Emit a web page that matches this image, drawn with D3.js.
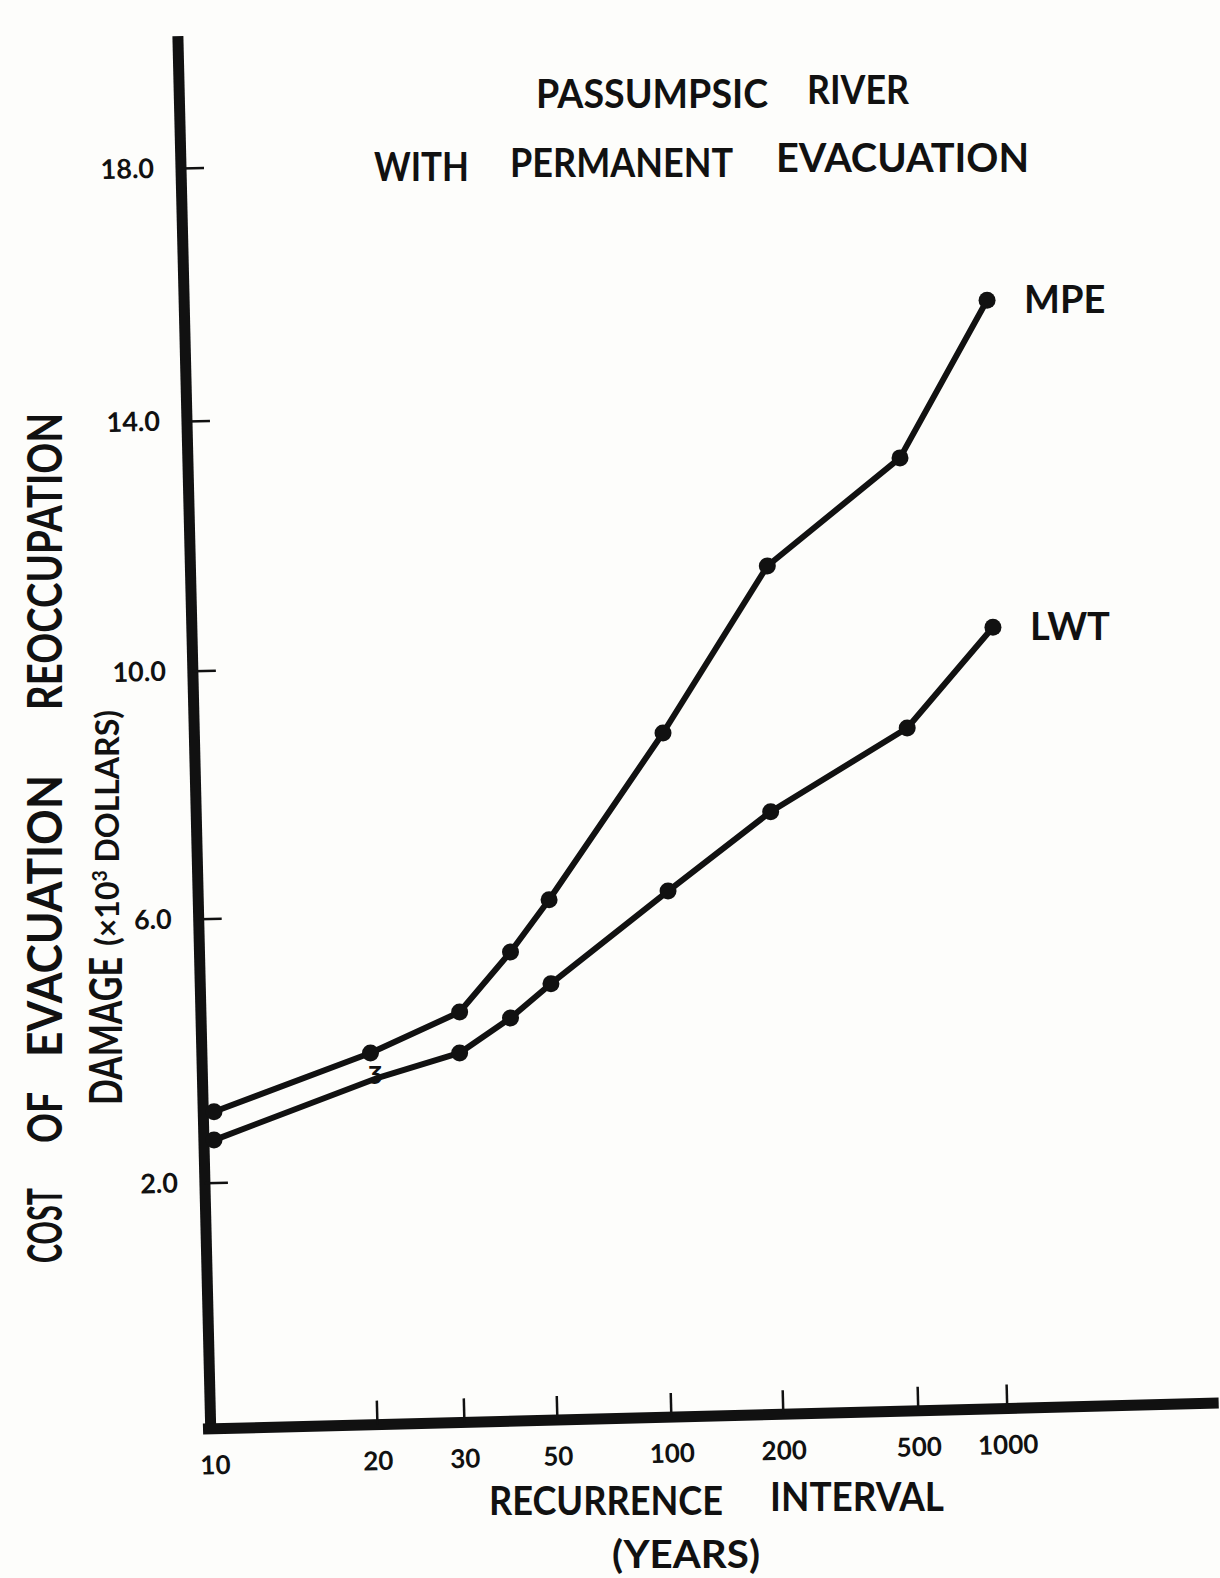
<!DOCTYPE html>
<html>
<head>
<meta charset="utf-8">
<script src="https://cdn.jsdelivr.net/npm/d3@7"></script>
<style>
  body { margin: 0; background: #fdfdfb; }
  text { font-family: Lato, "Open Sans", sans-serif; fill: #111; font-weight: bold; }
</style>
</head>
<body>
<div id="chart"></div>
<script>
// recurrence interval (years) and cost (x10^3 dollars)
var recurrenceTicks = [10, 20, 30, 50, 100, 200, 500, 1000];
var costTicks = [2, 6, 10, 14, 18];

var mpeYears = [10, 19.6, 29.5, 40, 48.3, 96.5, 186, 460, 888];
var mpeCost  = [3.08, 3.97, 4.59, 5.5, 6.31, 9.0, 11.68, 13.41, 15.91];

var lwtYears = [10, 19.9, 29.5, 40, 48.7, 98.7, 189, 476, 921];
var lwtCost  = [2.65, 3.58, 3.97, 4.5, 5.02, 6.45, 7.73, 9.08, 10.70];

var w = 1220, h = 1578;

var svg = d3.select("#chart").append("svg")
  .attr("width", w)
  .attr("height", h);

svg.append("rect").attr("width", w).attr("height", h).attr("fill", "#fdfdfb");

// hand drawn graph paper: uneven tick spacing, so piecewise scales
var xScale = d3.scaleLinear()
  .domain(recurrenceTicks)
  .range([214, 377, 464, 557, 671, 783, 918, 1007]);

var yScale = d3.scaleLinear()
  .domain(costTicks)
  .range([1183, 919, 671, 421, 168]);

// y axis (slightly tilted)
var yAxisG = svg.append("g")
  .attr("transform", "translate(181,0) rotate(-1.35,0,168)");

yAxisG.append("line")
  .attr("x1", 0).attr("y1", 36)
  .attr("x2", 0).attr("y2", 1434)
  .attr("stroke", "#111")
  .attr("stroke-width", 11);

yAxisG.call(d3.axisLeft(yScale)
    .tickValues(costTicks)
    .tickFormat(d3.format(".1f"))
    .tickSizeInner(-23)
    .tickSizeOuter(0)
    .tickPadding(27));

yAxisG.select(".domain").remove();
yAxisG.selectAll(".tick line").attr("stroke", "#111").attr("stroke-width", 2.5);
yAxisG.selectAll(".tick text")
  .attr("font-size", "27px")
  .attr("font-weight", "bold")
  .attr("font-family", "Lato, sans-serif")
  .attr("fill", "#111");

// x axis (slightly tilted)
var xAxisG = svg.append("g")
  .attr("transform", "translate(0,1429) rotate(-1.47,206,0)");

xAxisG.append("line")
  .attr("x1", 203).attr("y1", 0)
  .attr("x2", 1219).attr("y2", 0)
  .attr("stroke", "#111")
  .attr("stroke-width", 11);

xAxisG.call(d3.axisBottom(xScale)
    .tickValues(recurrenceTicks)
    .tickFormat(d3.format("d"))
    .tickSizeInner(-24)
    .tickSizeOuter(0)
    .tickPadding(27));

xAxisG.select(".domain").remove();
xAxisG.selectAll(".tick line")
  .attr("stroke", "#111")
  .attr("stroke-width", 2.5)
  .attr("opacity", function(d) { return d == 10 ? 0 : 1; });
xAxisG.selectAll(".tick text")
  .attr("font-size", "26px")
  .attr("font-weight", "bold")
  .attr("font-family", "Lato, sans-serif")
  .attr("fill", "#111");

// series
var line = d3.line()
  .x(function(d) { return xScale(d[0]); })
  .y(function(d) { return yScale(d[1]); });

var series = [
  { name: "MPE", pts: d3.zip(mpeYears, mpeCost) },
  { name: "LWT", pts: d3.zip(lwtYears, lwtCost) }
];

series.forEach(function(s) {
  svg.append("path")
    .datum(s.pts)
    .attr("d", line)
    .attr("fill", "none")
    .attr("stroke", "#111")
    .attr("stroke-width", 6)
    .attr("stroke-linejoin", "round");

  svg.selectAll(".dot-" + s.name)
    .data(s.pts.filter(function(d, i) { return !(s.name == "LWT" && i == 1); }))
    .enter()
    .append("circle")
    .attr("cx", function(d) { return xScale(d[0]); })
    .attr("cy", function(d) { return yScale(d[1]); })
    .attr("r", 8.5)
    .attr("fill", "#111");

  var last = s.pts[s.pts.length - 1];
  svg.append("text")
    .attr("x", xScale(last[0]) + 37)
    .attr("y", yScale(last[1]) + 13)
    .attr("font-size", "38px")
    .text(s.name);
});

// the smudged marker on LWT at 20 years
svg.append("text")
  .attr("x", xScale(lwtYears[1]))
  .attr("y", yScale(lwtCost[1]) + 5)
  .attr("text-anchor", "middle")
  .attr("font-size", "24px")
  .text("Ʒ");

// lettering
function word(str, x, y, len, size, rot) {
  var t = svg.append("text")
    .attr("font-size", size + "px")
    .attr("textLength", len)
    .attr("lengthAdjust", "spacingAndGlyphs")
    .text(str);
  if (rot) {
    t.attr("transform", "translate(" + x + "," + y + ") rotate(-90)");
  } else {
    t.attr("x", x).attr("y", y);
  }
  return t;
}

word("PASSUMPSIC", 536, 108, 232, 40);
word("RIVER", 807, 104, 102, 40);
word("WITH", 374, 181, 95, 40);
word("PERMANENT", 510, 177, 223, 40);
word("EVACUATION", 776, 172, 253, 40);

word("RECURRENCE", 489, 1515, 234, 41);
word("INTERVAL", 770, 1511, 174, 41);
word("(YEARS)", 612, 1568, 148, 39);

word("COST", 62, 1263, 75, 47, true);
word("OF", 62, 1143, 51, 47, true);
word("EVACUATION", 62, 1057, 282, 47, true);
word("REOCCUPATION", 62, 710, 297, 47, true);

word("DAMAGE", 122, 1105, 148, 45, true);
var unit = svg.append("text")
  .attr("transform", "translate(119,946) rotate(-90)")
  .attr("font-size", "33px")
  .attr("textLength", 236)
  .attr("lengthAdjust", "spacingAndGlyphs");
unit.append("tspan").text("(×10");
unit.append("tspan").attr("dy", -12).attr("font-size", "20px").text("3");
unit.append("tspan").attr("dy", 12).text(" DOLLARS)");
</script>
</body>
</html>
